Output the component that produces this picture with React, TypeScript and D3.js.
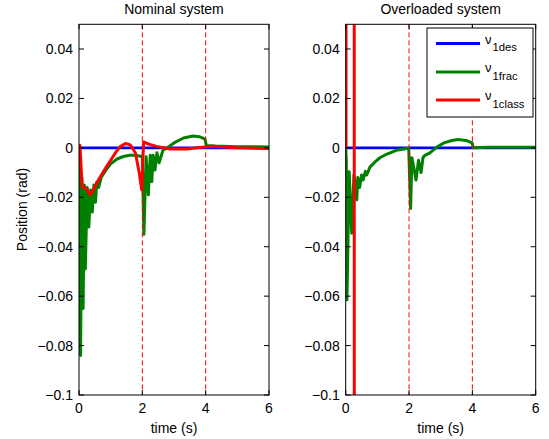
import React from "react";
import * as d3 from "d3";

// ---------- data ----------
const xTicks = [0, 2, 4, 6];
const yTicks = [-0.1, -0.08, -0.06, -0.04, -0.02, 0, 0.02, 0.04];
const switchTimes = [2, 4];
const titles = ["Nominal system", "Overloaded system"];
const legendNames = ["1des", "1frac", "1class"];

const tDes = [0, 6];
const vDes = [0, 0];

// Nominal system
const tNomFrac = [0, 0.02, 0.05, 0.09, 0.13, 0.17, 0.2, 0.26, 0.31, 0.37, 0.42, 0.47, 0.52, 0.56, 0.62, 0.7, 0.85, 1.0, 1.2, 1.4, 1.6, 1.8, 1.97, 2.0, 2.05, 2.12, 2.19, 2.25, 2.3, 2.34, 2.4, 2.46, 2.53, 2.65, 2.78, 3.0, 3.3, 3.6, 3.8, 3.98, 4.02, 4.3, 5, 6];
const vNomFrac = [0, -0.01, -0.084, -0.012, -0.065, -0.015, -0.049, -0.016, -0.032, -0.017, -0.026, -0.015, -0.022, -0.014, -0.016, -0.012, -0.009, -0.0065, -0.0045, -0.0035, -0.003, -0.003, -0.0035, -0.004, -0.035, -0.0036, -0.019, -0.003, -0.0137, -0.003, -0.009, -0.002, -0.006, -0.001, 0, 0.002, 0.004, 0.0048, 0.0045, 0.0035, 0.001, 0.0008, 0.0005, 0.0004];
const tNomClass = [0, 0.03, 0.1, 0.17, 0.26, 0.35, 0.45, 0.58, 0.8, 1.0, 1.15, 1.3, 1.47, 1.62, 1.78, 1.9, 1.98, 2.04, 2.2, 2.45, 2.7, 2.87, 3.4, 3.9, 4.23, 5, 6];
const vNomClass = [0, 0.001, -0.0158, -0.016, -0.017, -0.019, -0.017, -0.0137, -0.009, -0.005, -0.002, 0.0005, 0.0018, 0.0012, -0.002, -0.01, -0.017, 0.0024, 0.0015, 0.0006, 0, -0.0005, -0.0005, 0.0003, 0.0007, 0, -0.0003];

// Overloaded system
const tOvFrac = [0, 0.02, 0.04, 0.11, 0.19, 0.26, 0.35, 0.38, 0.44, 0.5, 0.55, 0.62, 0.66, 0.77, 0.9, 1.08, 1.3, 1.6, 1.85, 1.99, 2.05, 2.09, 2.15, 2.22, 2.3, 2.38, 2.44, 2.5, 2.66, 2.9, 3.1, 3.35, 3.55, 3.8, 3.99, 4.03, 4.5, 6];
const vOvFrac = [0, -0.005, -0.0615, -0.0097, -0.0345, -0.011, -0.021, -0.012, -0.016, -0.011, -0.013, -0.0095, -0.011, -0.0077, -0.006, -0.004, -0.0025, -0.001, -0.0005, 0, -0.0245, -0.004, -0.008, -0.013, -0.005, -0.01, -0.004, -0.003, -0.002, 0.0005, 0.002, 0.003, 0.0034, 0.003, 0.002, 0, 0.0002, 0.0002];
const tOvClass = [0, 0.01, 0.012, 0.26, 0.28, 6];
const vOvClass = [0, 0, 1, 1, -1, -1];

const panels = [
  { frac: [tNomFrac, vNomFrac], cls: [tNomClass, vNomClass] },
  { frac: [tOvFrac, vOvFrac], cls: [tOvClass, vOvClass] },
];

const BLUE = "#0000ff";
const GREEN = "#008000";
const RED = "#ff0000";
const FONT = "'Liberation Sans', Arial, Helvetica, sans-serif";

const W = 549, H = 439;
const axLeft = [79, 345.7];
const axW = 190;
const axTop = 24.3, axBottom = 395;

function fmt(v: number) {
  if (v === 0) return "0";
  const s = d3.format("")(+v.toFixed(2));
  return s.replace("-", "\u2212");
}

function Panel({ idx }: { idx: number }) {
  const x0 = axLeft[idx];
  const xs = d3.scaleLinear().domain([0, 6]).range([x0, x0 + axW]);
  const ys = d3.scaleLinear().domain([-0.1, 0.05]).range([axBottom, axTop]);
  const mk = (t: number[], v: number[]) =>
    d3.line<number>().x((_, i) => xs(t[i])).y((_, i) => ys(v[i]))(v) || "";
  const p = panels[idx];
  const clipId = `clip${idx}`;
  const tick = 5;
  return (
    <g>
      <defs>
        <clipPath id={clipId}>
          <rect x={x0} y={axTop} width={axW} height={axBottom - axTop} />
        </clipPath>
      </defs>
      <rect x={x0} y={axTop} width={axW} height={axBottom - axTop} fill="#fff" />
      <g clipPath={`url(#${clipId})`}>
        <path d={mk(tDes, vDes)} stroke={BLUE} strokeWidth={2.6} fill="none" />
        <path d={mk(p.frac[0], p.frac[1])} stroke={GREEN} strokeWidth={3} fill="none" strokeLinejoin="round" />
        <path d={mk(p.cls[0], p.cls[1])} stroke={RED} strokeWidth={3} fill="none" strokeLinejoin="round" />
        {switchTimes.map((s) => (
          <line key={s} x1={xs(s)} x2={xs(s)} y1={axTop} y2={axBottom} stroke={RED} strokeWidth={1} strokeDasharray="5,3" />
        ))}
      </g>
      {/* ticks */}
      {xTicks.map((t) => (
        <g key={"x" + t}>
          <line x1={xs(t)} x2={xs(t)} y1={axBottom} y2={axBottom - tick} stroke="#000" />
          <line x1={xs(t)} x2={xs(t)} y1={axTop} y2={axTop + tick} stroke="#000" />
          <text x={xs(t)} y={axBottom + 18} textAnchor="middle" fontSize={14} fontFamily={FONT}>{fmt(t)}</text>
        </g>
      ))}
      {yTicks.map((v) => (
        <g key={"y" + v}>
          <line x1={x0} x2={x0 + tick} y1={ys(v)} y2={ys(v)} stroke="#000" />
          <line x1={x0 + axW} x2={x0 + axW - tick} y1={ys(v)} y2={ys(v)} stroke="#000" />
          <text x={x0 - 6} y={ys(v) + 5} textAnchor="end" fontSize={14} fontFamily={FONT}>{fmt(v)}</text>
        </g>
      ))}
      <rect x={x0} y={axTop} width={axW} height={axBottom - axTop} fill="none" stroke="#000" strokeWidth={1} />
      <text x={x0 + axW / 2} y={14} textAnchor="middle" fontSize={14} fontFamily={FONT}>{titles[idx]}</text>
      <text x={x0 + axW / 2} y={433} textAnchor="middle" fontSize={14} fontFamily={FONT}>time (s)</text>
    </g>
  );
}

function Legend() {
  const colors = [BLUE, GREEN, RED];
  const rows = [43.5, 72, 100];
  return (
    <g>
      <rect x={427} y={28} width={106} height={89} fill="#fff" stroke="#000" strokeWidth={1} />
      {legendNames.map((n, i) => (
        <g key={n}>
          <line x1={436} x2={480} y1={rows[i]} y2={rows[i]} stroke={colors[i]} strokeWidth={3} />
          <text x={485} y={rows[i]} fontSize={13} fontFamily={FONT}>
            ν
          </text>
          <text x={492.5} y={rows[i] + 7.5} fontSize={11.3} fontFamily={FONT}>{n}</text>
        </g>
      ))}
    </g>
  );
}

export default function App() {
  return (
    <svg width={W} height={H} style={{ position: "absolute", left: 0, top: 0, background: "#fff" }}>
      <rect width={W} height={H} fill="#fff" />
      <Panel idx={0} />
      <Panel idx={1} />
      <Legend />
      <text transform={`translate(27,209.5) rotate(-90)`} textAnchor="middle" fontSize={14} fontFamily={FONT}>Position (rad)</text>
    </svg>
  );
}
